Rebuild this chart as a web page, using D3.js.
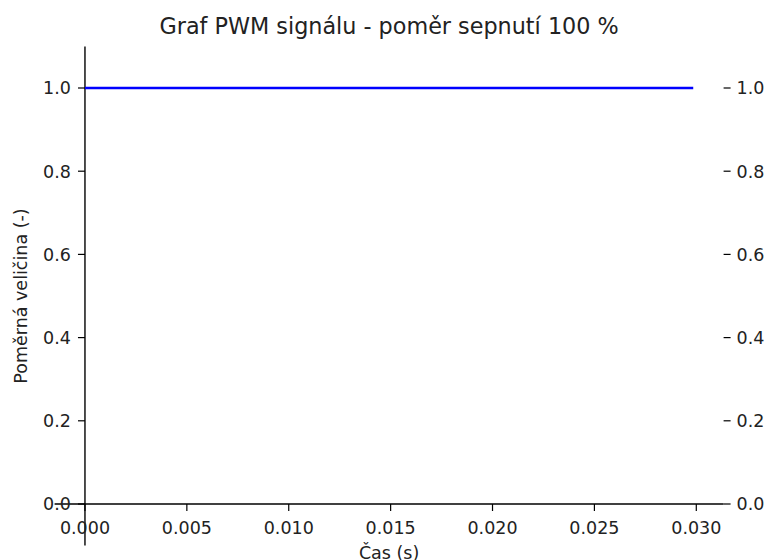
<!DOCTYPE html>
<html>
<head>
<meta charset="utf-8">
<script src="https://cdn.jsdelivr.net/npm/d3@7"></script>
<style>
  body { margin: 0; background: #fff; }
  text { font-family: "DejaVu Sans", sans-serif; fill: #222; }
</style>
</head>
<body>
<svg id="chart" width="768" height="560"></svg>
<script>
// PWM signal, duty 100 % -> constant 1.0
const time = [0, 0.02985];
const signal = [1.0, 1.0];
const xTicks = [0, 0.005, 0.01, 0.015, 0.02, 0.025, 0.03];
const yTicks = [0, 0.2, 0.4, 0.6, 0.8, 1.0];
const title = "Graf PWM signálu - poměr sepnutí 100 %";
const xLabel = "Čas (s)";
const yLabel = "Poměrná veličina (-)";

const svg = d3.select("#chart");

const x = d3.scaleLinear().domain([-0.00149, 0.03134]).range([54.6, 723.6]);
const y = d3.scaleLinear().domain([-0.1, 1.1]).range([545.6, 46.4]);

const tickLen = 7;
const fontSize = "17.5px";

// left spine at x = 0
svg.append("line")
    .attr("x1", x(0)).attr("x2", x(0))
    .attr("y1", y(-0.1)).attr("y2", y(1.1))
    .style("stroke", "black").style("stroke-width", 1.4);

// bottom spine at y = 0
svg.append("line")
    .attr("x1", x(-0.00149)).attr("x2", x(0.03134))
    .attr("y1", y(0)).attr("y2", y(0))
    .style("stroke", "black").style("stroke-width", 1.4);

// x ticks
const xt = svg.selectAll(".xtick").data(xTicks).enter()
    .append("g").attr("class", "xtick")
    .attr("transform", d => `translate(${x(d)} ${y(0)})`);
xt.append("line").attr("y1", 0).attr("y2", tickLen)
    .style("stroke", "black").style("stroke-width", 1.2);
xt.append("text").attr("y", 30).attr("text-anchor", "middle")
    .style("font-size", fontSize)
    .text(d => d3.format(".3f")(d));

// left y ticks
const ylt = svg.selectAll(".ytickl").data(yTicks).enter()
    .append("g").attr("class", "ytickl")
    .attr("transform", d => `translate(${x(0)} ${y(d)})`);
ylt.append("line").attr("x1", 0).attr("x2", -tickLen)
    .style("stroke", "black").style("stroke-width", 1.2);
ylt.append("text").attr("x", -tickLen - 7).attr("dy", "0.36em")
    .attr("text-anchor", "end").style("font-size", fontSize)
    .text(d => d3.format(".1f")(d));

// right y ticks (no spine)
const yrt = svg.selectAll(".ytickr").data(yTicks).enter()
    .append("g").attr("class", "ytickr")
    .attr("transform", d => `translate(${x(0.03134)} ${y(d)})`);
yrt.append("line").attr("x1", 0).attr("x2", tickLen)
    .style("stroke", "black").style("stroke-width", 1.2);
yrt.append("text").attr("x", tickLen + 6).attr("dy", "0.36em")
    .attr("text-anchor", "start").style("font-size", fontSize)
    .text(d => d3.format(".1f")(d));

// signal line
const line = d3.line().x((d, i) => x(time[i])).y(d => y(d));
svg.append("path")
    .datum(signal)
    .attr("d", line)
    .style("fill", "none")
    .style("stroke", "#0000ff")
    .style("stroke-width", 2.6);

// title
svg.append("text")
    .attr("x", (x(-0.00149) + x(0.03134)) / 2).attr("y", 34)
    .attr("text-anchor", "middle").style("font-size", "22.3px")
    .text(title);

// axis labels
svg.append("text")
    .attr("x", (x(-0.00149) + x(0.03134)) / 2).attr("y", 559)
    .attr("text-anchor", "middle").style("font-size", fontSize)
    .text(xLabel);
svg.append("text")
    .attr("transform", `translate(27 ${(y(-0.1) + y(1.1)) / 2}) rotate(-90)`)
    .attr("text-anchor", "middle").style("font-size", fontSize)
    .text(yLabel);
</script>
</body>
</html>
